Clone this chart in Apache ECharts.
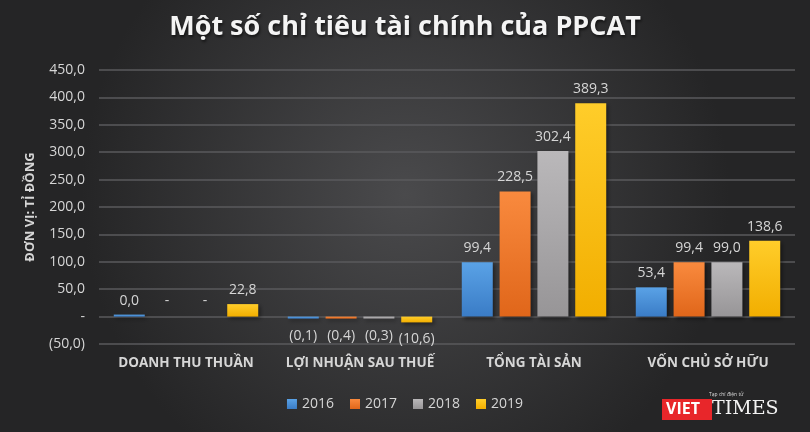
<!DOCTYPE html>
<html>
<head>
<meta charset="utf-8">
<script src="https://cdn.jsdelivr.net/npm/echarts@6/dist/echarts.min.js"></script>
<style>
  html, body { margin: 0; padding: 0; background: #2a2a2b; }
  #chart { width: 810px; height: 432px; }
</style>
</head>
<body>
<div id="chart"></div>
<script>
/**
 * data
 */
var categories = ['DOANH THU THUẦN', 'LỢI NHUẬN SAU THUẾ', 'TỔNG TÀI SẢN', 'VỐN CHỦ SỞ HỮU'];
var years = ['2016', '2017', '2018', '2019'];
var v2016 = [0.02, -0.1, 99.4, 53.4];
var v2017 = [0, -0.4, 228.5, 99.4];
var v2018 = [0, -0.3, 302.4, 99.0];
var v2019 = [22.8, -10.6, 389.3, 138.6];
var yTicks = { min: -50, max: 450, interval: 50 };

var colors = [
    ['#5aa2e6', '#3a7cc6'],
    ['#f98a3e', '#e0661a'],
    ['#bab8ba', '#979597'],
    ['#ffcd2a', '#f2ae00']
];

/**
 * accounting style number: 1 decimal, comma, (neg), "-" for zero
 * @param number v
 */
function fmt(v){
    if(v === 0) return '-';
    var s = Math.abs(v).toFixed(1).replace('.', ',');
    return v < 0 ? '(' + s + ')' : s;
}

/**
 * build series data items from one year array
 */
function buildItems(values){
    var items = [];
    for(var i = 0; i < values.length; i++){
        var v = values[i];
        var item = { value: v };
        if(v < 0) item.label = { position: 'bottom', distance: 10 };
        if(v === 0) item.itemStyle = { color: 'rgba(0,0,0,0)', shadowBlur: 0, shadowOffsetX: 0, shadowOffsetY: 0 };
        items.push(item);
    }
    return items;
}

var chart = echarts.init(document.getElementById('chart'));
var allValues = [v2016, v2017, v2018, v2019];
var series = [];
for(var k = 0; k < years.length; k++){
    series.push({
        name: years[k],
        type: 'bar',
        barWidth: 31,
        barGap: '22%',
        barMinHeight: 2,
        itemStyle: {
            color: new echarts.graphic.LinearGradient(0, 0, 0, 1, [
                { offset: 0, color: colors[k][0] },
                { offset: 1, color: colors[k][1] }
            ]),
            shadowColor: 'rgba(0,0,0,0.45)',
            shadowBlur: 4,
            shadowOffsetX: 2,
            shadowOffsetY: 2
        },
        label: {
            show: true,
            position: 'top',
            distance: 7,
            color: '#d6d6d6',
            fontFamily: 'Open Sans',
            fontSize: 14,
            formatter: function(p){ return fmt(p.value); }
        },
        data: buildItems(allValues[k])
    });
}

var option = {
    backgroundColor: new echarts.graphic.RadialGradient(0.5, 0.45, 0.75, [
        { offset: 0, color: '#4a4a4c' },
        { offset: 1, color: '#252526' }
    ]),
    title: {
        text: 'Một số chỉ tiêu tài chính của PPCAT',
        left: 'center',
        top: 9,
        textStyle: {
            color: '#f4f4f4',
            fontFamily: 'Open Sans',
            fontWeight: 'bold',
            fontSize: 27,
            textShadowColor: 'rgba(0,0,0,0.6)',
            textShadowBlur: 3,
            textShadowOffsetX: 1,
            textShadowOffsetY: 2
        }
    },
    legend: {
        data: years,
        bottom: 16,
        left: 'center',
        icon: 'rect',
        itemWidth: 10,
        itemHeight: 10,
        itemGap: 16,
        textStyle: { color: '#d6d6d6', fontFamily: 'Open Sans', fontSize: 14 }
    },
    grid: { left: 99, right: 15, top: 70, bottom: 88 },
    xAxis: {
        type: 'category',
        data: categories,
        axisLine: { show: false },
        axisTick: { show: false },
        axisLabel: {
            interval: 0,
            color: '#d6d6d6',
            fontFamily: 'Open Sans',
            fontWeight: 'bold',
            fontSize: 13.5,
            margin: 12
        }
    },
    yAxis: {
        type: 'value',
        min: yTicks.min,
        max: yTicks.max,
        interval: yTicks.interval,
        name: 'ĐƠN VỊ: TỈ ĐỒNG',
        nameLocation: 'middle',
        nameGap: 62,
        nameTextStyle: {
            color: '#d6d6d6',
            fontFamily: 'Open Sans',
            fontWeight: 'bold',
            fontSize: 13
        },
        axisLine: { show: false },
        axisTick: { show: false },
        axisLabel: {
            color: '#d6d6d6',
            fontFamily: 'Open Sans',
            fontSize: 14,
            margin: 14,
            formatter: function(v){ return fmt(v); }
        },
        splitLine: { lineStyle: { color: '#5a5a5c', width: 1.5 } }
    },
    graphic: [
        {
            type: 'rect',
            left: 662, top: 399,
            shape: { width: 50, height: 21 },
            style: { fill: '#e8262a' }
        },
        {
            type: 'text',
            left: 666, top: 401,
            style: { text: 'VIET', fill: '#ffffff', font: 'bold 16px "Open Sans"' }
        },
        {
            type: 'text',
            left: 712, top: 400,
            style: { text: 'TIMES', fill: '#f2f2f2', font: '19px "DejaVu Serif"' }
        },
        {
            type: 'text',
            left: 709, top: 392,
            style: { text: 'Tạp chí điện tử', fill: '#dddddd', font: '5px "Open Sans"' }
        }
    ],
    series: series
};
chart.setOption(option);
</script>
</body>
</html>
